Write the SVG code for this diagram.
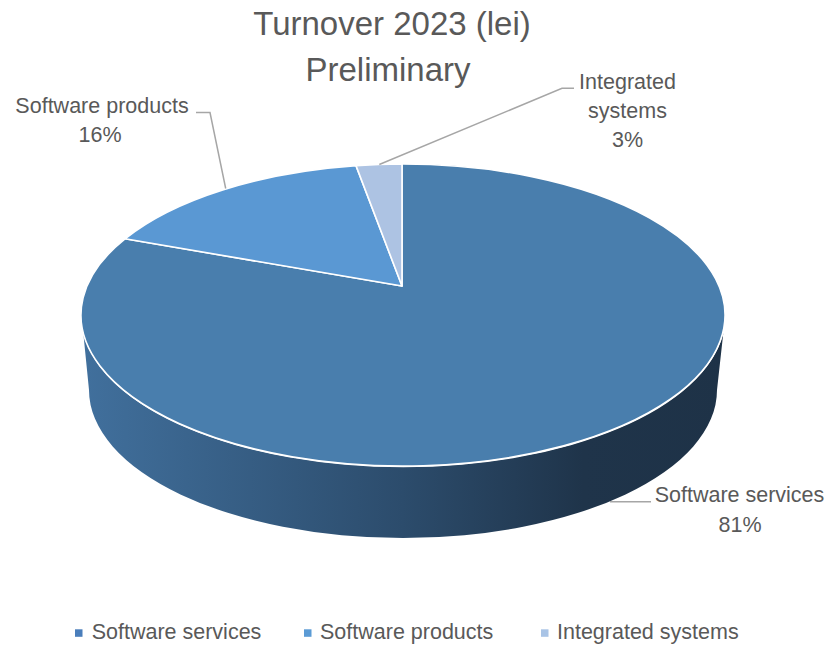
<svg xmlns="http://www.w3.org/2000/svg" width="827" height="645" viewBox="0 0 827 645">
<style>
  text { font-family: "Liberation Sans", Arial, sans-serif; fill: #595959; }
  .title { font-size: 33px; text-anchor: middle; }
  .lbl { font-size: 21.5px; text-anchor: middle; }
  .leg { font-size: 21.5px; }
  .slice { stroke: #ffffff; stroke-width: 1.6; stroke-linejoin: round; }
  .leader { fill: none; stroke: #A6A6A6; stroke-width: 1.5; }
</style>
<defs>
  <linearGradient id="sideGrad" gradientUnits="userSpaceOnUse" x1="80" y1="0" x2="725" y2="0">
    <stop offset="0" stop-color="#41709D"/>
    <stop offset="0.5" stop-color="#2C4C6C"/>
    <stop offset="0.78" stop-color="#1F344A"/>
    <stop offset="1" stop-color="#1E3247"/>
  </linearGradient>
</defs>
<rect width="827" height="645" fill="#ffffff"/>

<g id="title">
  <text class="title" x="392" y="35">Turnover 2023 (lei)</text>
  <text class="title" x="388" y="81">Preliminary</text>
</g>

<g id="pie-side">
  <path d="M 83.3 333 A 322 151 0 0 0 723.3 333 L 717 390 A 314 148 0 0 1 89 390 Z" fill="url(#sideGrad)"/>
</g>

<g id="slice-software-services">
  <path class="slice" d="M 402 286 L 402 164 A 322 151 0 1 1 125 238.8 Z" fill="#497EAD"/>
</g>
<g id="slice-software-products">
  <path class="slice" d="M 402 286 L 125 238.8 A 322 151 0 0 1 356 165.6 Z" fill="#5A98D3"/>
</g>
<g id="slice-integrated-systems">
  <path class="slice" d="M 402 286 L 356 165.6 A 322 151 0 0 1 402 164 Z" fill="#ADC3E3"/>
</g>

<g id="connectors">
  <polyline class="leader" points="196,112.5 210,112.5 225.7,188.5"/>
  <polyline class="leader" points="574,88.3 562,88.3 379.3,164.5"/>
  <polyline class="leader" points="610,501.7 651,501.7"/>
</g>

<g id="label-software-products">
  <text class="lbl" x="102" y="113">Software products</text>
  <text class="lbl" x="100" y="142">16%</text>
</g>
<g id="label-integrated-systems">
  <text class="lbl" x="627.5" y="89">Integrated</text>
  <text class="lbl" x="627.5" y="118">systems</text>
  <text class="lbl" x="627.5" y="147">3%</text>
</g>
<g id="label-software-services">
  <text class="lbl" x="739.5" y="502">Software services</text>
  <text class="lbl" x="740" y="532">81%</text>
</g>

<g id="legend">
  <rect x="75" y="629.3" width="7.5" height="7.5" fill="#4A7EBB"/>
  <text class="leg" x="91.7" y="638.7">Software services</text>
  <rect x="304" y="629.3" width="7.5" height="7.5" fill="#5B9BD5"/>
  <text class="leg" x="320" y="638.7">Software products</text>
  <rect x="541" y="629.3" width="7.5" height="7.5" fill="#A9C4E6"/>
  <text class="leg" x="557" y="638.7">Integrated systems</text>
</g>
</svg>
